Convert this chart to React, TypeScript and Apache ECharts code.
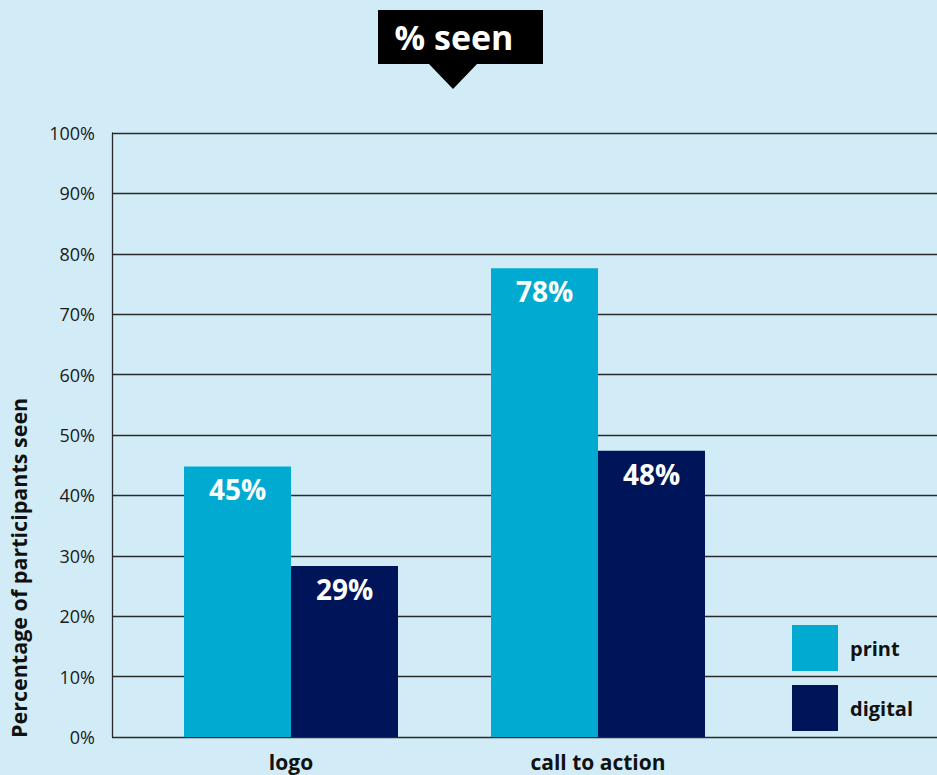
import React, { useEffect, useRef } from "react";
import * as echarts from "echarts";

const categories = ["logo", "call to action"];
const printValues = [44.8, 77.6];
const digitalValues = [28.3, 47.4];
const printLabels = ["45%", "78%"];
const digitalLabels = ["29%", "48%"];
const yTicks = [0, 10, 20, 30, 40, 50, 60, 70, 80, 90, 100];

const BG = "#d2ecf7";
const PRINT = "#00aad0";
const DIGITAL = "#001559";
const FONT = "'Open Sans', 'Noto Sans', sans-serif";

export default function App() {
  const ref = useRef<HTMLDivElement>(null);
  useEffect(() => {
    const chart = echarts.init(ref.current!, null, { renderer: "svg" });
    chart.setOption({
      animation: false,
      backgroundColor: BG,
      textStyle: { fontFamily: FONT },
      grid: [
        { left: 112, right: 0, top: 133, bottom: 38 },
        { left: 137.5, width: 614, top: 133, bottom: 38 },
      ],
      legend: {
        orient: "vertical",
        left: 792,
        top: 625,
        padding: 0,
        itemWidth: 46,
        itemHeight: 46,
        itemGap: 14,
        icon: "rect",
        data: ["print", "digital"],
        textStyle: { fontSize: 20, fontWeight: "bold", color: "#111", fontFamily: FONT, padding: [0, 0, 2, 7] },
      },
      xAxis: [
        {
          gridIndex: 0,
          type: "category",
          data: [""],
          axisLine: { show: false },
          axisTick: { show: false },
          axisLabel: { show: false },
        },
        {
          gridIndex: 1,
          type: "category",
          data: categories,
          axisLine: { show: false },
          axisTick: { show: false },
          axisLabel: { fontSize: 21, fontWeight: "bold", color: "#111", margin: 14, fontFamily: FONT },
        },
      ],
      yAxis: [
        {
          gridIndex: 0,
          type: "value",
          min: 0,
          max: 100,
          interval: 10,
          axisLine: { show: true, lineStyle: { color: "#2a2a2a", width: 1.3 } },
          axisTick: { show: false },
          splitLine: { lineStyle: { color: "#2a2a2a", width: 1.3 } },
          axisLabel: {
            formatter: (v: number) => (yTicks.includes(v) ? v + "%" : ""),
            fontSize: 18,
            color: "#1a1a1a",
            margin: 17,
            fontFamily: FONT,
          },
        },
        {
          gridIndex: 1,
          type: "value",
          min: 0,
          max: 100,
          show: false,
        },
      ],
      series: [
        {
          name: "print",
          type: "bar",
          xAxisIndex: 1,
          yAxisIndex: 1,
          data: printValues,
          barWidth: 107,
          barGap: "0%",
          itemStyle: { color: PRINT },
          label: {
            show: true,
            position: "insideTop",
            distance: 9,
            formatter: (p: any) => printLabels[p.dataIndex],
            color: "#fff",
            fontSize: 28,
            fontWeight: "bold",
            fontFamily: FONT,
          },
        },
        {
          name: "digital",
          type: "bar",
          xAxisIndex: 1,
          yAxisIndex: 1,
          data: digitalValues,
          barWidth: 107,
          barGap: "0%",
          itemStyle: { color: DIGITAL },
          label: {
            show: true,
            position: "insideTop",
            distance: 9,
            formatter: (p: any) => digitalLabels[p.dataIndex],
            color: "#fff",
            fontSize: 28,
            fontWeight: "bold",
            fontFamily: FONT,
          },
        },
      ],
      graphic: [
        { type: "rect", shape: { x: 378, y: 10, width: 165, height: 54 }, style: { fill: "#000" } },
        { type: "polygon", shape: { points: [[428, 63], [478, 63], [453, 89]] }, style: { fill: "#000" } },
        {
          type: "text",
          x: 454,
          y: 37,
          style: {
            text: "% seen",
            fill: "#fff",
            font: `bold 34px ${FONT}`,
            textAlign: "center",
            textVerticalAlign: "middle",
          },
        },
        {
          type: "text",
          x: 18,
          y: 738,
          rotation: Math.PI / 2,
          style: {
            text: "Percentage of participants seen",
            fill: "#111",
            font: `bold 21.5px ${FONT}`,
            textAlign: "left",
            textVerticalAlign: "middle",
          },
        },
      ],
    });
    return () => chart.dispose();
  }, []);
  return (
    <div
      ref={ref}
      style={{ position: "fixed", left: 0, top: 0, width: 937, height: 775 }}
    />
  );
}
